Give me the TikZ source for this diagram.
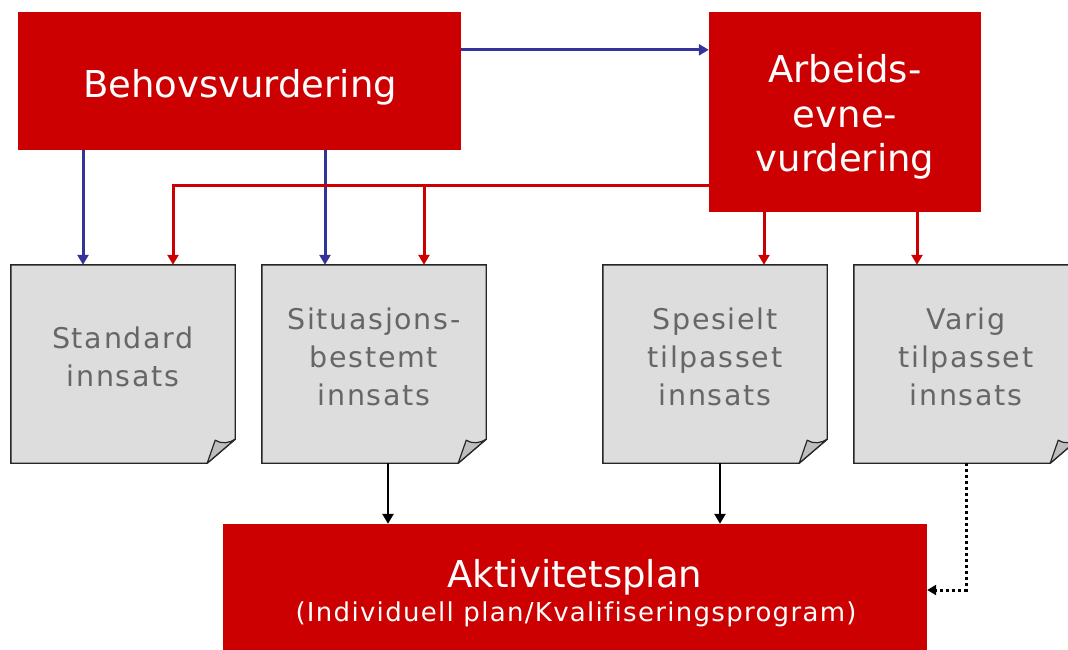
\documentclass[tikz,border=0pt]{standalone}
\usepackage{fontspec}
\setmainfont{DejaVu Sans}[Ligatures=NoCommon]
\newfontfamily\greyfont[LetterSpace=6,Ligatures=NoCommon]{DejaVu Sans}
\newfontfamily\subfont[LetterSpace=5,Ligatures=NoCommon]{DejaVu Sans}
\usetikzlibrary{arrows.meta}
\definecolor{nred}{RGB}{204,0,0}
\definecolor{nblue}{RGB}{51,51,153}
\definecolor{nfill}{RGB}{221,221,221}
\definecolor{ntext}{RGB}{102,102,102}
\definecolor{nfold}{RGB}{190,190,190}
\tikzset{
  redbox/.style={fill=nred, draw=none, inner sep=0pt},
  redtext/.style={text=white, align=center, inner sep=0pt},
  docbox/.style={draw=none, minimum width=224pt, minimum height=198pt, inner sep=0pt},
  doctext/.style={text=ntext, align=center, inner sep=0pt, font=\greyfont\fontsize{28.5}{38}\selectfont},
  docshape/.style={fill=nfill, draw=black!85, line width=1.4pt, line join=miter},
  foldshape/.style={fill=nfold, draw=black!85, line width=1.2pt, line join=round},
  bl/.style={draw=nblue, line width=3pt, -{Triangle[width=11pt,length=10pt]}},
  rd/.style={draw=nred, line width=3pt, -{Triangle[width=11pt,length=10pt]}},
  bk/.style={draw=black, line width=2.8pt, -{Triangle[width=11pt,length=10pt]}},
  dt/.style={draw=black, line width=3pt, dash pattern=on 3pt off 3pt, -{Triangle[width=10pt,length=9pt]}}
}
\newcommand{\docpaper}[1]{%
  \path[docshape] (#1.north west) -- (#1.north east) -- ([yshift=24pt]#1.south east)
     -- ([xshift=-28pt]#1.south east) -- (#1.south west) -- cycle;
  \path[foldshape] ([xshift=-28pt]#1.south east) -- ([xshift=-20pt,yshift=23pt]#1.south east)
     .. controls ([xshift=-14pt,yshift=19pt]#1.south east) and ([xshift=-6pt,yshift=20pt]#1.south east) .. ([yshift=24pt]#1.south east) -- cycle;
}
\begin{document}
\begin{tikzpicture}[x=1pt,y=-1pt]
\useasboundingbox (0,0) rectangle (1068,649);
% red boxes
\node[redbox, minimum width=443pt, minimum height=138pt] (behov) at (239.5,81) {};
\node[redbox, minimum width=272pt, minimum height=200pt] (arb) at (845,112) {};
\node[redbox, minimum width=704pt, minimum height=130pt] (akt) at (575,589) {};
\node[redtext, font=\fontsize{37}{44}\selectfont, anchor=base] at (240,97) {Behovsvurdering};
\node[redtext, font=\fontsize{37}{44.5}\selectfont] at (845,117) {Arbeids-\\evne-\\vurdering};
\node[redtext, font=\fontsize{37}{40}\selectfont, anchor=base] at (575,587) {Aktivitetsplan};
\node[redtext, font=\subfont\fontsize{26}{30}\selectfont, anchor=base] at (576,621) {(Individuell plan/Kvalifiseringsprogram)};
% document boxes
\node[docbox] (std) at (123,364) {};
\node[docbox] (sit) at (374,364) {};
\node[docbox] (spe) at (715,364) {};
\node[docbox] (var) at (966,364) {};
\docpaper{std}
\docpaper{sit}
\docpaper{spe}
\docpaper{var}
\node[doctext] at (123,357) {Standard\\innsats};
\node[doctext] at (374,357) {Situasjons-\\bestemt\\innsats};
\node[doctext] at (715,357) {Spesielt\\tilpasset\\innsats};
\node[doctext] at (966,357) {Varig\\tilpasset\\innsats};
% helper coordinates
\coordinate (b1) at (83,0);
\coordinate (b2) at (325,0);
\coordinate (r1) at (173,0);
\coordinate (r2) at (424,0);
\coordinate (r3) at (764,0);
\coordinate (r4) at (917,0);
\coordinate (rl) at (0,185);
\coordinate (k1) at (388,0);
\coordinate (k2) at (720,0);
% blue connectors
\draw[bl] ([yshift=-38pt]behov.north east) -- ([yshift=-38pt]arb.north west);
\draw[bl] (behov.south -| b1) -- (std.north -| b1);
\draw[bl] (behov.south -| b2) -- (sit.north -| b2);
% red connectors
\draw[rd] (arb.west |- rl) -| (std.north -| r1);
\draw[rd] (rl -| r2) -- (sit.north -| r2);
\draw[rd] (arb.south -| r3) -- (spe.north -| r3);
\draw[rd] (arb.south -| r4) -- (var.north -| r4);
% black connectors
\draw[bk] (sit.south -| k1) -- (akt.north -| k1);
\draw[bk] (spe.south -| k2) -- (akt.north -| k2);
\draw[dt] (var.south) |- ([yshift=-1pt]akt.east);
\end{tikzpicture}
\end{document}
